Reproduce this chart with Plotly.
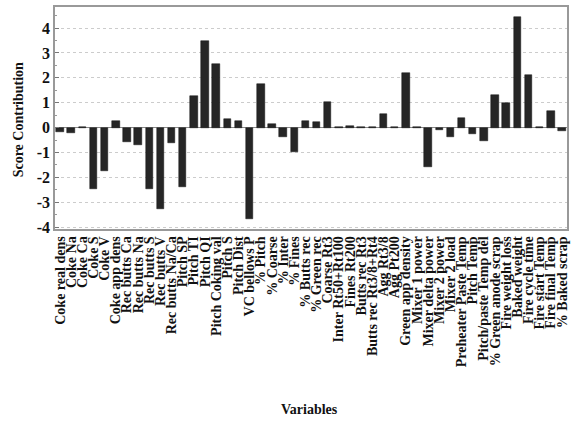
import plotly.graph_objects as go

variables = [
    "Coke real dens", "Coke Na", "Coke Ca", "Coke S", "Coke V",
    "Coke app dens", "Rec butts Ca", "Rec butts Na", "Rec butts S", "Rec butts V",
    "Rec butts Na/Ca", "Pitch SP", "Pitch TI", "Pitch QI", "Pitch Coking val",
    "Pitch S", "Pitch Dist", "VC bellows P", "% Pitch", "% Coarse",
    "% Inter", "% Fines", "% Butts rec", "% Green rec", "Coarse Rt3",
    "Inter Rt50+Rt100", "Fines Rt200", "Butts rec Rt3", "Butts rec Rt3/8+Rt4", "Agg Rt3/8",
    "Agg Pt200", "Green app density", "Mixer 1 power", "Mixer delta power", "Mixer 2 power",
    "Mixer 2 load", "Preheater Paste Temp", "Pitch Temp", "Pitch/paste Temp del", "% Green anode scrap",
    "Fire weight loss", "Baked weight", "Fire cycle time", "Fire start Temp", "Fire final Temp",
    "% Baked scrap",
]

score_contribution = [
    -0.16, -0.23, 0.02, -2.47, -1.73,
    0.27, -0.60, -0.72, -2.48, -3.29,
    -0.62, -2.38, 1.28, 3.50, 2.56,
    0.34, 0.27, -3.66, 1.74, 0.15,
    -0.39, -1.00, 0.28, 0.21, 1.03,
    0.04, 0.06, 0.02, 0.02, 0.56,
    0.02, 2.19, 0.02, -1.60, -0.10,
    -0.38, 0.39, -0.24, -0.56, 1.32,
    0.98, 4.46, 2.12, 0.02, 0.66,
    -0.13,
]

y_ticks = [-4, -3, -2, -1, 0, 1, 2, 3, 4]

serif = "Liberation Serif, Times New Roman, serif"
idx = list(range(len(variables)))

fig = go.Figure()
fig.add_trace(go.Bar(
    x=idx,
    y=score_contribution,
    width=0.67,
    marker=dict(color="#262626", line=dict(color="#111111", width=0.5)),
))

fig.update_layout(
    width=575,
    height=422,
    margin=dict(l=55, r=8, t=7, b=193, autoexpand=False),
    paper_bgcolor="white",
    plot_bgcolor="white",
    showlegend=False,
    font=dict(family=serif, color="#111111"),
    bargap=0,
)

fig.update_xaxes(
    automargin=False,
    range=[-0.45, len(variables) - 0.55],
    tickmode="array",
    tickvals=idx,
    ticktext=[f"<b>{v}</b>" for v in variables],
    tickangle=-90,
    tickfont=dict(family=serif, size=14, color="#111111"),
    showgrid=False,
    zeroline=False,
    showline=True,
    linecolor="#999999",
    linewidth=1.5,
    mirror=True,
    ticks="",
)

fig.update_yaxes(
    automargin=False,
    range=[-4.08, 4.85],
    tickmode="array",
    tickvals=y_ticks,
    ticktext=[f"<b>{t}</b>" for t in y_ticks],
    tickfont=dict(family=serif, size=16, color="#111111"),
    showgrid=True,
    gridcolor="#cccccc",
    griddash="dot",
    gridwidth=1,
    zeroline=True,
    zerolinecolor="#888888",
    zerolinewidth=1,
    showline=True,
    linecolor="#999999",
    linewidth=1.5,
    mirror=True,
    ticks="inside",
    ticklen=4,
    tickcolor="#777777",
    minor=dict(dtick=0.5, ticks="inside", ticklen=2, tickcolor="#999999", showgrid=False),
)

fig.add_annotation(
    text="<b>Score Contribution</b>",
    xref="paper", yref="paper",
    x=-0.072, y=0.49,
    textangle=-90,
    showarrow=False,
    font=dict(family=serif, size=14, color="#111111"),
    xanchor="center", yanchor="middle",
)

fig.add_annotation(
    text="<b>Variables</b>",
    xref="paper", yref="paper",
    x=0.498, y=-0.815,
    showarrow=False,
    font=dict(family=serif, size=14, color="#111111"),
    xanchor="center", yanchor="middle",
)

fig.write_html(
    "out.html",
    config={"displayModeBar": False},
    post_script="document.body.style.margin='0';document.body.style.overflow='hidden';",
)
